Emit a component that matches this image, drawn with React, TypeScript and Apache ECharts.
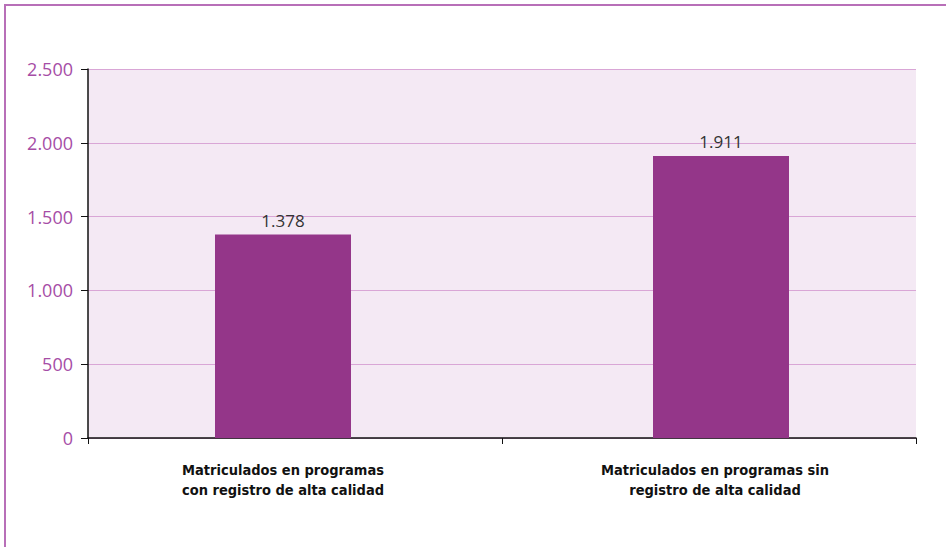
import React, { useEffect, useRef } from "react";
import * as echarts from "echarts";

const categories = [
  "Matriculados en programas\ncon registro de alta calidad",
  "Matriculados en programas sin\nregistro de alta calidad",
];
const valuesA = [1378, "-"];
const valuesB = ["-", 1911];
const yTicks = { min: 0, max: 2500, interval: 500 };

const fmt = (v: number) => String(v).replace(/\B(?=(\d{3})+(?!\d))/g, ".");

export default function App() {
  const ref = useRef<HTMLDivElement>(null);
  useEffect(() => {
    document.body.style.margin = "0";
    const chart = echarts.init(ref.current!, null, { renderer: "svg" });
    const barColor = "#943689";
    const label = {
      show: true,
      position: "top",
      distance: 6,
      color: "#333333",
      fontSize: 17,
      fontFamily: "Open Sans",
      formatter: (p: any) => fmt(p.value),
    };
    const catStyle = {
      fontSize: 14.5,
      fontWeight: 600,
      fontFamily: "DejaVu Sans Condensed",
      color: "#111",
      lineHeight: 20,
    };
    chart.setOption({
      animation: false,
      backgroundColor: "#ffffff",
      graphic: [
        {
          type: "rect",
          z: -10,
          shape: { x: 5, y: 5, width: 1200, height: 1000 },
          style: { fill: "none", stroke: "#B86FB8", lineWidth: 2 },
        },
      ],
      grid: {
        left: 88,
        right: 30,
        top: 69,
        bottom: 109,
        show: true,
        backgroundColor: "#F4E9F4",
        borderWidth: 0,
      },
      xAxis: {
        type: "category",
        data: categories,
        axisLine: { show: true, lineStyle: { color: "#111", width: 1.5 } },
        axisTick: { show: true, length: 6, lineStyle: { color: "#111" } },
        axisLabel: {
          margin: 22,
          formatter: (v: string, i: number) =>
            v
              .split("\n")
              .map((s) => `{${i === 0 ? "a" : "b"}|${s}}`)
              .join("\n"),
          rich: {
            a: { ...catStyle, padding: [0, 24, 0, 0] },
            b: { ...catStyle, padding: [0, 0, 0, 12] },
          },
        },
      },
      yAxis: {
        type: "value",
        min: yTicks.min,
        max: yTicks.max,
        interval: yTicks.interval,
        axisLine: { show: true, lineStyle: { color: "#111", width: 1.5 } },
        axisTick: { show: true, length: 7, lineStyle: { color: "#111" } },
        axisLabel: {
          margin: 15,
          color: "#A64DA6",
          fontSize: 18,
          fontFamily: "Open Sans",
          formatter: (v: number) => fmt(v),
        },
        splitLine: { show: true, lineStyle: { color: "#D9A6D6", width: 1 } },
      },
      series: [
        {
          type: "bar",
          data: valuesA,
          barWidth: 136,
          barGap: "-82.35%",
          itemStyle: { color: barColor },
          label,
        },
        {
          type: "bar",
          data: valuesB,
          barWidth: 136,
          barGap: "-82.35%",
          itemStyle: { color: barColor },
          label,
        },
      ],
    });
    return () => chart.dispose();
  }, []);
  return <div ref={ref} style={{ width: 946, height: 547 }} />;
}
